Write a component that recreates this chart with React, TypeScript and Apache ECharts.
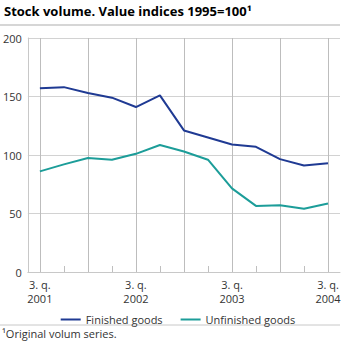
import React, { useEffect, useRef } from "react";
import * as echarts from "echarts";

const categories = [
  "3. q.\n2001", "4. q. 2001", "1. q. 2002", "2. q. 2002", "3. q.\n2002", "4. q. 2002",
  "1. q. 2003", "2. q. 2003", "3. q.\n2003", "4. q. 2003", "1. q. 2004", "2. q. 2004", "3. q.\n2004",
];
const finishedGoods = [157, 158, 153, 149, 141, 151, 121, 115, 109, 107, 96.5, 91, 93];
const unfinishedGoods = [86, 92, 97.5, 96, 101, 108.5, 103, 96, 71.5, 56.5, 57, 54, 58.5];
const yTicks = [0, 50, 100, 150, 200];
const gridCategoryIdx = [0, 2, 4, 6, 8, 10, 12];

const FONT = "'Open Sans', 'DejaVu Sans', sans-serif";

export default function App() {
  const ref = useRef<HTMLDivElement>(null);
  useEffect(() => {
    if (!ref.current) return;
    const chart = echarts.init(ref.current, undefined, { renderer: "svg" });
    chart.setOption({
      animation: false,
      textStyle: { fontFamily: FONT },
      grid: { left: 25, right: 16, top: 38, bottom: 81, containLabel: false },
      xAxis: {
        type: "category",
        data: categories,
        boundaryGap: true,
        axisLine: { show: true, lineStyle: { color: "#c8c8c8", width: 1 } },
        axisTick: {
          show: true,
          inside: true,
          length: 6,
          alignWithLabel: true,
          interval: 0,
          lineStyle: { color: "#bfbfbf" },
        },
        splitLine: { show: false },
        axisLabel: {
          interval: (i: number) => i % 4 === 0,
          color: "#333",
          fontSize: 11,
          lineHeight: 14,
          margin: 5,
          fontFamily: FONT,
        },
      },
      yAxis: {
        type: "value",
        min: yTicks[0],
        max: yTicks[yTicks.length - 1],
        interval: 50,
        axisLine: { show: true, lineStyle: { color: "#c8c8c8" } },
        axisTick: { show: false },
        splitLine: { show: true, lineStyle: { color: "#d2d2d2", width: 1 } },
        axisLabel: { color: "#333", fontSize: 11, margin: 6, fontFamily: FONT },
      },
      legend: {
        top: 309,
        left: "center",
        icon: "rect",
        itemWidth: 20,
        itemHeight: 2,
        itemGap: 18,
        textStyle: { fontSize: 11, color: "#333", fontFamily: FONT },
        data: ["Finished goods", "Unfinished goods"],
      },
      graphic: [
        {
          type: "text",
          left: 4,
          top: 4,
          style: {
            text: "Stock volume. Value indices 1995=100¹",
            font: `bold 13px ${FONT}`,
            fill: "#000",
          },
        },
        {
          type: "line",
          shape: { x1: 0, y1: 25, x2: 340, y2: 25 },
          style: { stroke: "#c8c8c8", lineWidth: 1.5 },
        },
        {
          type: "line",
          shape: { x1: 0, y1: 325, x2: 340, y2: 325 },
          style: { stroke: "#c8c8c8", lineWidth: 1 },
        },
        {
          type: "text",
          left: 2,
          top: 328,
          style: {
            text: "¹Original volum series.",
            font: `11px ${FONT}`,
            fill: "#333",
          },
        },
      ],
      series: [
        {
          name: "Finished goods",
          type: "line",
          data: finishedGoods,
          symbol: "none",
          z: 3,
          lineStyle: { color: "#1f3a93", width: 2 },
          itemStyle: { color: "#1f3a93" },
          markLine: {
            silent: true,
            z: 1,
            symbol: ["none", "none"],
            label: { show: false },
            lineStyle: { color: "#bdbdbd", width: 1, type: "solid" },
            emphasis: { disabled: true },
            data: gridCategoryIdx.map((i) => ({ xAxis: i })),
          },
        },
        {
          name: "Unfinished goods",
          type: "line",
          data: unfinishedGoods,
          symbol: "none",
          z: 3,
          lineStyle: { color: "#1c9d99", width: 2 },
          itemStyle: { color: "#1c9d99" },
        },
      ],
    });
    return () => chart.dispose();
  }, []);
  return <div ref={ref} style={{ width: 356, height: 353, position: "absolute", left: 0, top: 0 }} />;
}
